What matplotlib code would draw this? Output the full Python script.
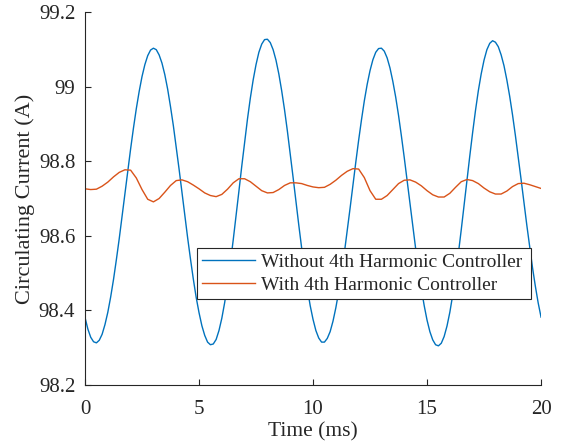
import numpy as np
import matplotlib.pyplot as plt

# time axes (ms): the fast oscillation is read every 0.125 ms, the small one every 0.25 ms
time_without = np.arange(0, 20.001, 0.125)
time_with = np.arange(0, 20.001, 0.25)

# circulating current without the 4th harmonic controller (A)
without_ctrl = [
    98.381, 98.350, 98.328, 98.316, 98.313, 98.320, 98.336, 98.362,
    98.395, 98.436, 98.483, 98.536, 98.592, 98.652, 98.713, 98.774,
    98.833, 98.889, 98.941, 98.987, 99.027, 99.059, 99.083, 99.098,
    99.103, 99.099, 99.085, 99.063, 99.032, 98.993, 98.946, 98.895,
    98.838, 98.779, 98.717, 98.656, 98.595, 98.538, 98.484, 98.435,
    98.394, 98.359, 98.333, 98.315, 98.308, 98.310, 98.322, 98.346,
    98.379, 98.421, 98.471, 98.527, 98.589, 98.654, 98.720, 98.787,
    98.851, 98.913, 98.969, 99.018, 99.059, 99.092, 99.114, 99.126,
    99.127, 99.118, 99.099, 99.071, 99.034, 98.989, 98.938, 98.881,
    98.820, 98.757, 98.693, 98.629, 98.568, 98.511, 98.459, 98.413,
    98.376, 98.346, 98.326, 98.315, 98.315, 98.325, 98.343, 98.371,
    98.407, 98.450, 98.500, 98.555, 98.614, 98.674, 98.736, 98.797,
    98.856, 98.911, 98.962, 99.006, 99.043, 99.072, 99.092, 99.102,
    99.103, 99.095, 99.077, 99.050, 99.014, 98.972, 98.923, 98.868,
    98.810, 98.749, 98.687, 98.626, 98.566, 98.510, 98.458, 98.413,
    98.374, 98.343, 98.321, 98.308, 98.305, 98.312, 98.330, 98.358,
    98.395, 98.441, 98.494, 98.553, 98.616, 98.682, 98.749, 98.814,
    98.877, 98.936, 98.989, 99.034, 99.071, 99.099, 99.116, 99.123,
    99.119, 99.107, 99.085, 99.056, 99.018, 98.974, 98.924, 98.869,
    98.811, 98.751, 98.690, 98.629, 98.571, 98.515, 98.465, 98.420,
    98.382,
]

# circulating current with the 4th harmonic controller (A)
with_ctrl = [
    98.726, 98.724, 98.725, 98.733, 98.744, 98.758, 98.770, 98.777, 98.776,
    98.755, 98.724, 98.698, 98.691, 98.700, 98.717, 98.735, 98.748, 98.750,
    98.745, 98.736, 98.726, 98.715, 98.708, 98.705, 98.711, 98.725, 98.742,
    98.753, 98.753, 98.745, 98.733, 98.721, 98.715, 98.716, 98.724, 98.735,
    98.742, 98.742, 98.740, 98.735, 98.731, 98.729, 98.730, 98.738, 98.749,
    98.762, 98.773, 98.780, 98.779, 98.756, 98.721, 98.698, 98.698, 98.708,
    98.724, 98.740, 98.749, 98.750, 98.744, 98.734, 98.721, 98.710, 98.704,
    98.704, 98.714, 98.730, 98.745, 98.751, 98.748, 98.740, 98.728, 98.718,
    98.712, 98.712, 98.720, 98.732, 98.740, 98.741, 98.737, 98.732, 98.727,
]

x_ticks = [0, 5, 10, 15, 20]
y_ticks = [98.2, 98.4, 98.6, 98.8, 99.0, 99.2]
y_tick_labels = ["98.2", "98.4", "98.6", "98.8", "99", "99.2"]

plt.rcParams["font.family"] = ["Liberation Serif", "DejaVu Serif"]

fig = plt.figure(figsize=(5.63, 4.48), dpi=100)
ax = fig.add_axes([0.151, 0.1406, 0.810, 0.8326])

ax.plot(time_without, without_ctrl, color="#0072BD", lw=1.0,
        label="Without 4th Harmonic Controller")
ax.plot(time_with, with_ctrl, color="#D95319", lw=1.0,
        label="With 4th Harmonic Controller")

ax.set_xlim(0, 20)
ax.set_ylim(98.2, 99.2)
ax.set_xticks(x_ticks)
ax.set_yticks(y_ticks)
ax.set_yticklabels(y_tick_labels)

axis_color = "#262626"
for side in ["top", "right"]:
    ax.spines[side].set_visible(False)
for side in ["left", "bottom"]:
    ax.spines[side].set_color(axis_color)
    ax.spines[side].set_linewidth(0.8)
ax.tick_params(direction="in", length=4, width=0.8, colors=axis_color,
               labelsize=15, labelcolor=axis_color)
ax.tick_params(axis="x", pad=11)
ax.tick_params(axis="y", pad=7)

ax.set_xlabel("Time (ms)", fontsize=15.5, color=axis_color, labelpad=2)
ax.set_ylabel("Circulating Current (A)", fontsize=16, color=axis_color,
              labelpad=3)

leg = ax.legend(loc="lower left", bbox_to_anchor=(0.246, 0.2306, 0.732, 0.136),
                mode="expand", fontsize=14, frameon=True, fancybox=False,
                borderaxespad=0, handlelength=2.7, handletextpad=0.35,
                borderpad=0.25, labelspacing=0.3)
leg.get_frame().set_edgecolor(axis_color)
leg.get_frame().set_linewidth(0.8)
leg.get_frame().set_alpha(1.0)
for t in leg.get_texts():
    t.set_color(axis_color)

fig.savefig("out.png", dpi=100)
